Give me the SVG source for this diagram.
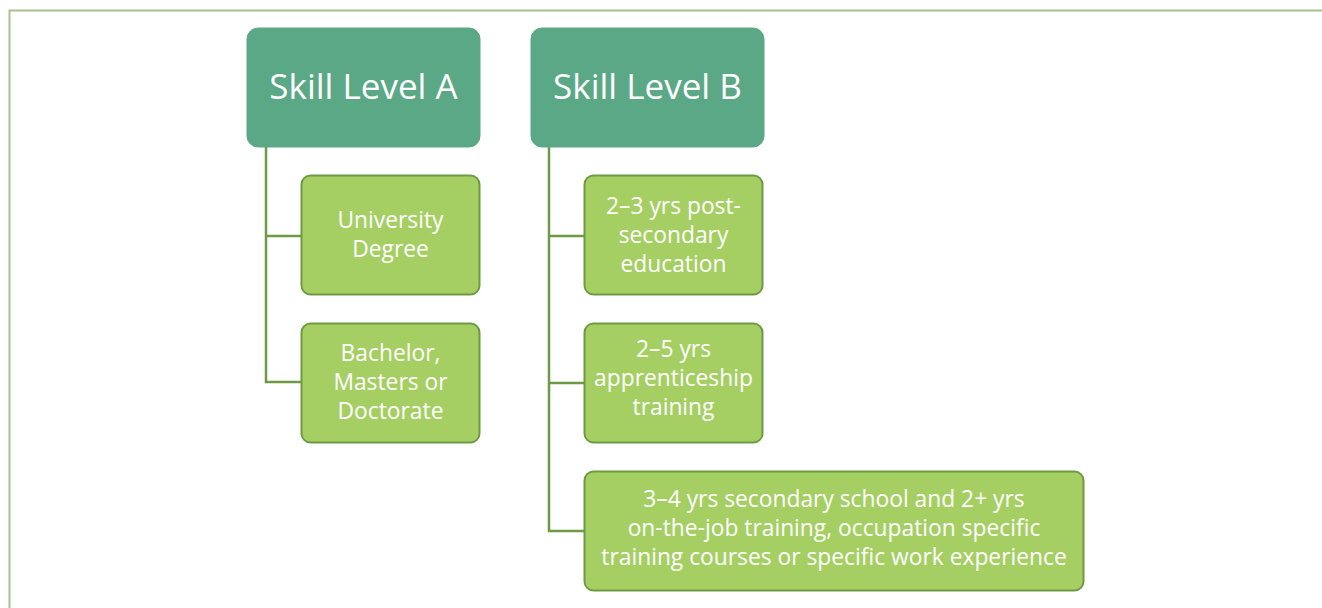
<svg xmlns="http://www.w3.org/2000/svg" width="1322" height="608" viewBox="0 0 1322 608">
<style>
.frame{stroke:#a9c08f;stroke-width:2;fill:none}
.head rect{fill:#5ba886;stroke:#5ba886;stroke-width:1}
.head text{fill:#ffffff;font-family:"Open Sans","Noto Sans",sans-serif;font-size:35px;text-anchor:middle}
.item rect{fill:#a5cf63;stroke:#6f9a45;stroke-width:2}
.item text{fill:#ffffff;font-family:"Open Sans","Noto Sans",sans-serif;font-size:22.8px;text-anchor:middle}
.conn path{stroke:#6f9a45;stroke-width:2.5;fill:none}
</style>
<rect width="1322" height="608" fill="#ffffff"/>
<path class="frame" d="M9.5 608 V10.5 H1322"/>
<g class="conn">
<path d="M266 147 V382 H301 M266 236 H301"/>
<path d="M549 147 V531 H584 M549 236 H584 M549 383 H584"/>
</g>
<g id="skillA" class="head">
<rect x="247" y="28" width="233" height="119" rx="11"/>
<text x="363.5" y="99">Skill Level A</text>
</g>
<g id="skillB" class="head">
<rect x="531" y="28" width="233" height="119" rx="11"/>
<text x="647.5" y="99">Skill Level B</text>
</g>
<g id="a1" class="item">
<rect x="301.5" y="175.5" width="178" height="119" rx="9"/>
<text x="390.5" y="228">University</text>
<text x="390.5" y="257">Degree</text>
</g>
<g id="a2" class="item">
<rect x="301.5" y="323.5" width="178" height="119" rx="9"/>
<text x="390.5" y="361">Bachelor,</text>
<text x="390.5" y="390">Masters or</text>
<text x="390.5" y="419">Doctorate</text>
</g>
<g id="b1" class="item">
<rect x="584.5" y="175.5" width="178" height="119" rx="9"/>
<text x="673.5" y="214">2–3 yrs post-</text>
<text x="673.5" y="243">secondary</text>
<text x="673.5" y="272">education</text>
</g>
<g id="b2" class="item">
<rect x="584.5" y="323.5" width="178" height="119" rx="9"/>
<text x="673.5" y="357">2–5 yrs</text>
<text x="673.5" y="386">apprenticeship</text>
<text x="673.5" y="415">training</text>
</g>
<g id="b3" class="item">
<rect x="584.5" y="471.5" width="499" height="119" rx="9"/>
<text x="834" y="507">3–4 yrs secondary school and 2+ yrs</text>
<text x="834" y="536">on-the-job training, occupation specific</text>
<text x="834" y="565">training courses or specific work experience</text>
</g>
</svg>
